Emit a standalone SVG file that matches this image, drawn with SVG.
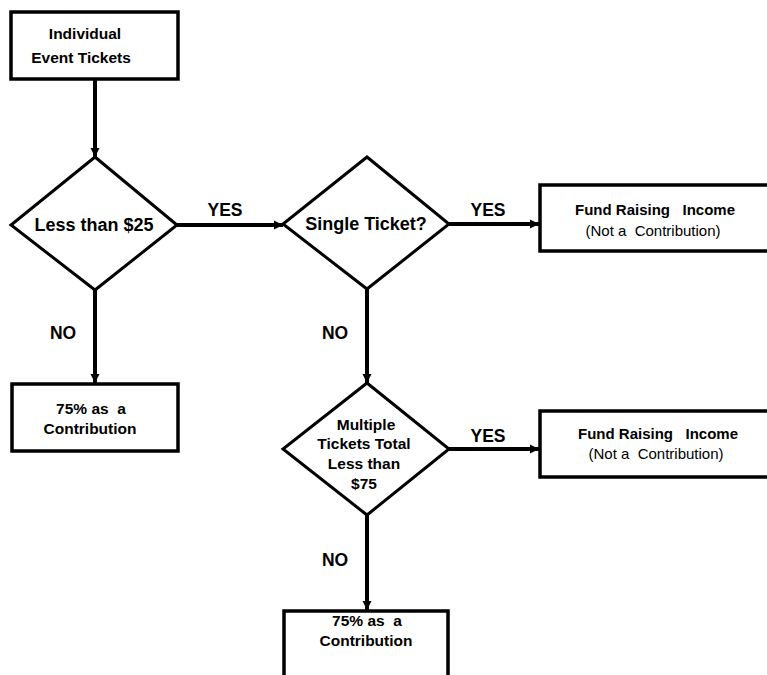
<svg xmlns="http://www.w3.org/2000/svg" width="767" height="675" viewBox="0 0 767 675">
<style>
.box{fill:#fff;stroke:#000;stroke-width:3.5}
.dia{fill:#fff;stroke:#000;stroke-width:3}
text{white-space:pre}
.t{font-family:"Liberation Sans",Arial,sans-serif;font-weight:bold;font-size:15.5px;fill:#000;text-anchor:middle}
.n{font-family:"Liberation Sans",Arial,sans-serif;font-size:15px;fill:#000;text-anchor:middle}
.f{font-size:15px}
.big{font-size:18px}
.lbl{font-family:"Liberation Sans",Arial,sans-serif;font-weight:bold;font-size:17.5px;fill:#000;text-anchor:middle}
.c{stroke:#000;stroke-width:4;fill:none}
</style>
<defs>
<marker id="ah" markerUnits="userSpaceOnUse" markerWidth="10" markerHeight="10" refX="9" refY="5" orient="auto">
<path d="M0,0.5 L9,5 L0,9.5 Z" fill="#000"/>
</marker>
</defs>
<g id="connectors">
<line class="c" x1="95" y1="79" x2="95" y2="157" marker-end="url(#ah)"/>
<line class="c" x1="177" y1="225" x2="283" y2="225" marker-end="url(#ah)"/>
<line class="c" x1="95" y1="290" x2="95" y2="383" marker-end="url(#ah)"/>
<line class="c" x1="449" y1="224" x2="539" y2="224" marker-end="url(#ah)"/>
<line class="c" x1="367" y1="289" x2="367" y2="383" marker-end="url(#ah)"/>
<line class="c" x1="449" y1="449" x2="539" y2="449" marker-end="url(#ah)"/>
<line class="c" x1="367" y1="515" x2="367" y2="610" marker-end="url(#ah)"/>
<text class="lbl" x="225" y="216">YES</text>
<text class="lbl" x="488" y="216">YES</text>
<text class="lbl" x="488" y="442">YES</text>
<text class="lbl" x="63" y="339">NO</text>
<text class="lbl" x="335" y="339">NO</text>
<text class="lbl" x="335" y="566">NO</text>
</g>
<g id="start">
<rect class="box" x="11" y="12" width="167" height="67"/>
<text class="t" x="85" y="39">Individual</text>
<text class="t" x="81" y="63">Event Tickets</text>
</g>
<g id="d1">
<polygon class="dia" points="95,157 177,225 95,290 11,225"/>
<text class="t big" x="94" y="231">Less than $25</text>
</g>
<g id="d2">
<polygon class="dia" points="367,157 449,224 367,289 283,224"/>
<text class="t big" x="366" y="230">Single Ticket?</text>
</g>
<g id="fund1">
<rect class="box" x="540" y="185" width="232" height="66"/>
<text class="t f" x="655" y="215">Fund Raising   Income</text>
<text class="n" x="653" y="236">(Not a  Contribution)</text>
</g>
<g id="contrib1">
<rect class="box" x="12" y="384" width="166" height="67"/>
<text class="t" x="91" y="414">75% as  a</text>
<text class="t" x="90" y="434">Contribution</text>
</g>
<g id="d3">
<polygon class="dia" points="367,383 449,449 367,515 283,449"/>
<text class="t" x="366" y="430">Multiple</text>
<text class="t" x="364" y="449">Tickets Total</text>
<text class="t" x="364" y="469">Less than</text>
<text class="t" x="364" y="489">$75</text>
</g>
<g id="fund2">
<rect class="box" x="540" y="411" width="232" height="66"/>
<text class="t f" x="658" y="439">Fund Raising   Income</text>
<text class="n" x="656" y="459">(Not a  Contribution)</text>
</g>
<g id="contrib2">
<rect class="box" x="284" y="611" width="164" height="70"/>
<text class="t" x="367" y="626">75% as  a</text>
<text class="t" x="366" y="646">Contribution</text>
</g>
</svg>
